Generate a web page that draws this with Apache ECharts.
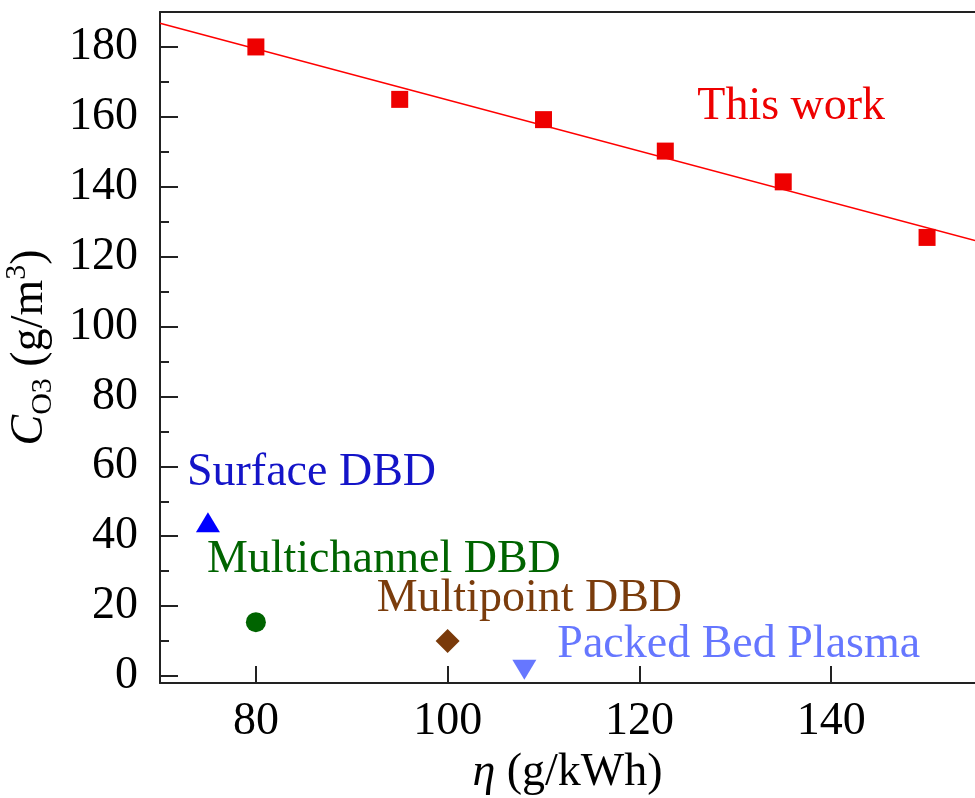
<!DOCTYPE html>
<html>
<head>
<meta charset="utf-8">
<script src="https://cdn.jsdelivr.net/npm/echarts@6/dist/echarts.min.js"></script>
<style>
  html, body { margin: 0; padding: 0; background: #fff; }
  #chart { width: 975px; height: 798px; }
</style>
</head>
<body>
<div id="chart"></div>
<script>
// ---- data ----
const etaThisWork = [80, 95, 110, 122.7, 135, 150]
const cThisWork = [180, 165, 159.2, 150.2, 141.4, 125.5]
const fitEta = [70, 155]          // linear fit, drawn across the whole axis
const fitC = [186.8, 124.6]
const surfaceDBD = [75, 44]       // [eta, C]
const multichannelDBD = [80, 15.4]
const multipointDBD = [100, 10]
const packedBed = [108, 1.8]
const xTicks = [80, 100, 120, 140]
const yTicks = [0, 20, 40, 60, 80, 100, 120, 140, 160, 180]
const yMinorTicks = [10, 30, 50, 70, 90, 110, 130, 150, 170]

const FONT = 'Liberation Serif'
const AXIS_COLOR = '#222'

const chart = echarts.init(document.getElementById('chart'))

function pairs(xs, ys) {
	return xs.map((x, i) => [x, ys[i]])
}

// square series, "This work" label hangs off the 4th point
const squareData = pairs(etaThisWork, cThisWork).map((p, i) => {
	if (i !== 3) return p
	return {
		value: p,
		label: {
			show: true,
			formatter: 'This work',
			position: 'inside',
			align: 'left',
			verticalAlign: 'middle',
			offset: [32, -44],
			color: '#ee0000',
			fontSize: 46,
			fontFamily: FONT
		}
	}
})

function refPoint(name, p, symbol, size, color, textColor, offset, rotate) {
	return {
		name: name,
		type: 'scatter',
		symbol: symbol,
		symbolSize: size,
		symbolRotate: rotate || 0,
		itemStyle: { color: color, opacity: 1 },
		label: {
			show: true,
			formatter: name,
			position: 'inside',
			align: 'left',
			verticalAlign: 'middle',
			offset: offset,
			color: textColor,
			fontSize: 46,
			fontFamily: FONT
		},
		data: [p],
		z: 3
	}
}

const option = {
	animation: false,
	backgroundColor: '#fff',
	textStyle: { fontFamily: FONT },
	grid: {
		left: 160,
		right: 0,
		top: 12,
		bottom: 115,
		containLabel: false,
		outerBoundsMode: 'none'
	},
	xAxis: [
		{
			type: 'value',
			min: 70,
			max: 155,
			position: 'bottom',
			name: '{i|η} (g/kWh)',
			nameLocation: 'middle',
			nameGap: 62,
			nameTextStyle: {
				color: '#000',
				fontSize: 46,
				fontFamily: FONT,
				rich: {
					i: { fontSize: 46, fontStyle: 'italic', fontFamily: FONT, color: '#000' }
				}
			},
			axisLine: { show: true, onZero: false, lineStyle: { color: AXIS_COLOR, width: 2 } },
			axisTick: { show: true, inside: true, length: 17, customValues: xTicks, lineStyle: { color: AXIS_COLOR, width: 2 } },
			axisLabel: { show: true, customValues: xTicks, margin: 16, color: '#000', fontSize: 46, fontFamily: FONT },
			splitLine: { show: false }
		},
		{
			// top frame line only
			type: 'value',
			min: 70,
			max: 155,
			position: 'top',
			axisLine: { show: true, onZero: false, lineStyle: { color: AXIS_COLOR, width: 2 } },
			axisTick: { show: false },
			axisLabel: { show: false },
			splitLine: { show: false }
		}
	],
	yAxis: [
		{
			type: 'value',
			min: -2,
			max: 190,
			position: 'left',
			name: '{c|C}{sub|O3} (g/m{sup|3})',
			nameLocation: 'middle',
			nameGap: 88,
			nameRotate: 90,
			nameTextStyle: {
				color: '#000',
				fontSize: 46,
				lineHeight: 56,
				fontFamily: FONT,
				rich: {
					c: { fontSize: 46, fontStyle: 'italic', fontFamily: FONT, color: '#000', lineHeight: 56 },
					sub: { fontSize: 30, fontFamily: FONT, color: '#000', lineHeight: 30, verticalAlign: 'bottom' },
					sup: { fontSize: 30, fontFamily: FONT, color: '#000', lineHeight: 30, verticalAlign: 'top' }
				}
			},
			axisLine: { show: true, onZero: false, lineStyle: { color: AXIS_COLOR, width: 2 } },
			axisTick: { show: true, inside: true, length: 18, customValues: yTicks, lineStyle: { color: AXIS_COLOR, width: 2 } },
			axisLabel: { show: true, customValues: yTicks, margin: 22, color: '#000', fontSize: 46, fontFamily: FONT },
			splitLine: { show: false }
		},
		{
			// minor ticks
			type: 'value',
			min: -2,
			max: 190,
			position: 'left',
			axisLine: { show: false },
			axisTick: { show: true, inside: true, length: 9, customValues: yMinorTicks, lineStyle: { color: AXIS_COLOR, width: 2 } },
			axisLabel: { show: false },
			splitLine: { show: false }
		}
	],
	series: [
		{
			name: 'fit',
			type: 'line',
			data: pairs(fitEta, fitC),
			symbol: 'none',
			lineStyle: { color: '#ff0000', width: 1.5 },
			silent: true,
			z: 2
		},
		{
			name: 'This work',
			type: 'scatter',
			symbol: 'rect',
			symbolSize: 17,
			itemStyle: { color: '#ee0000', opacity: 1 },
			data: squareData,
			z: 3
		},
		refPoint('Surface DBD', surfaceDBD, 'triangle', [24, 20], '#0000ff', '#1414c8', [-21, -49]),
		refPoint('Multichannel DBD', multichannelDBD, 'circle', 20, '#006400', '#006400', [-49, -62]),
		refPoint('Multipoint DBD', multipointDBD, 'diamond', [24, 24], '#7a3a0a', '#7a3c0c', [-71, -42]),
		refPoint('Packed Bed Plasma', packedBed, 'triangle', [24, 20], '#6677ff', '#6677ff', [33, -25], 180)
	]
}

chart.setOption(option)
</script>
</body>
</html>
